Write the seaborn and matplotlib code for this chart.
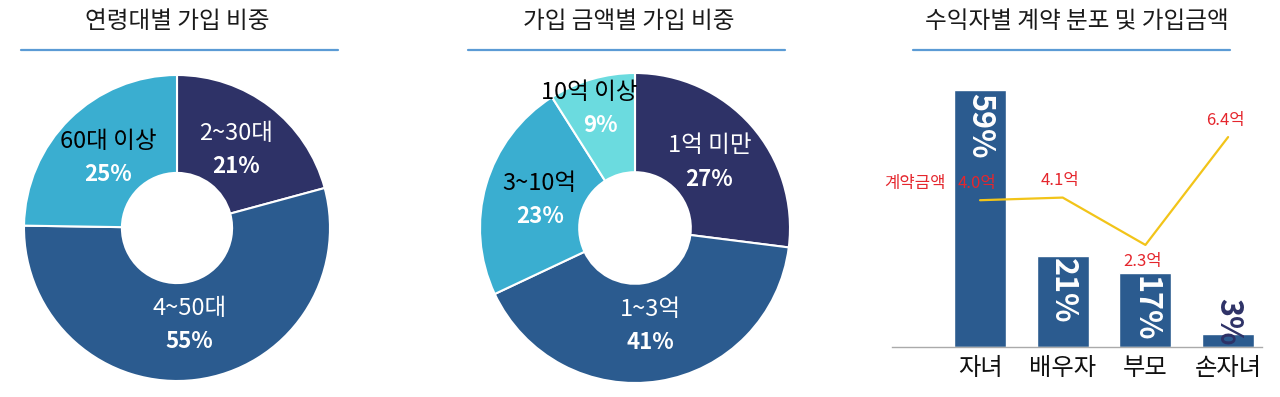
import numpy as np
import pandas as pd
import matplotlib
matplotlib.use("Agg")
import matplotlib.pyplot as plt
import seaborn as sns
from matplotlib.lines import Line2D

# chart data
age_labels = ["2~30대", "4~50대", "60대 이상"]
age_shares = [21, 55, 25]

amount_labels = ["1억 미만", "1~3억", "3~10억", "10억 이상"]
amount_shares = [27, 41, 23, 9]

benef_labels = ["자녀", "배우자", "부모", "손자녀"]
benef_shares = [59, 21, 17, 3]
benef_amounts = [4.0, 4.1, 2.3, 6.4]
amount_tags = ["4.0억", "4.1억", "2.3억", "6.4억"]

titles = ["연령대별 가입 비중", "가입 금액별 가입 비중", "수익자별 계약 분포 및 가입금액"]

NAVY = "#2e3267"
BLUE = "#2b5b8f"
SKY = "#3aaed0"
CYAN = "#6bdbdf"
RED = "#e5262d"
YELLOW = "#f2c419"
RULE = "#5b9bd5"

sns.set_theme(style="white")
plt.rcParams["font.family"] = ["Noto Sans CJK KR", "DejaVu Sans"]

W, H = 1280, 397
fig = plt.figure(figsize=(12.8, 3.97), dpi=100)


def px_axes(x0, y0, x1, y1):
    # pixel box with top-left origin -> figure axes
    return fig.add_axes([x0 / W, 1 - y1 / H, (x1 - x0) / W, (y1 - y0) / H])


def donut(ax, shares, labels, colors, name_colors):
    ax.pie(shares, colors=colors, startangle=90, counterclock=False, radius=1,
           wedgeprops=dict(width=0.64, edgecolor="white", linewidth=1.5))
    total = sum(shares)
    cum = 0
    for s, lab, nc in zip(shares, labels, name_colors):
        mid = np.deg2rad(90 - 360 * (cum + s / 2) / total)
        cum += s
        r = 0.8 if s < 10 else 0.64
        x, y = r * np.cos(mid), r * np.sin(mid)
        dx = -8 if s < 10 else 0
        ax.annotate(lab, (x, y), xytext=(dx, 12), textcoords="offset points",
                    ha="center", va="center", fontsize=17, color=nc)
        ax.annotate(f"{s}%", (x, y), xytext=(0, -12), textcoords="offset points",
                    ha="center", va="center", fontsize=16, fontweight=900,
                    color="white")
    ax.set_xlim(-1, 1)
    ax.set_ylim(-1, 1)
    ax.axis("off")


# donut 1
ax1 = px_axes(24, 75, 330, 381)
donut(ax1, age_shares, age_labels, [NAVY, BLUE, SKY], ["white", "white", "black"])

# donut 2
ax2 = px_axes(480, 73, 790, 383)
donut(ax2, amount_shares, amount_labels, [NAVY, BLUE, SKY, CYAN],
      ["white", "white", "black", "black"])

# bar + line
bar_df = pd.DataFrame({"who": benef_labels, "share": benef_shares,
                       "amount": benef_amounts})
axb = px_axes(892, 60, 1262, 347)
sns.barplot(data=bar_df, x="who", y="share", color=BLUE, width=0.63,
            saturation=1, ax=axb)
axb.set_ylim(0, 287 / 4.35)
for i, v in enumerate(benef_shares):
    if v >= 10:
        axb.annotate(f"{v}%", (i, v), xytext=(0, -2), textcoords="offset points",
                     rotation=-90, ha="center", va="top", color="white",
                     fontsize=22, fontweight=900)
    else:
        axb.annotate(f"{v}%", (i, 0), xytext=(0, 1), textcoords="offset points",
                     rotation=-90, ha="center", va="bottom", color=NAVY,
                     fontsize=22, fontweight=900)

axl = axb.twinx()
sns.lineplot(x=np.arange(len(benef_amounts)), y=benef_amounts, color=YELLOW,
             linewidth=1.6, ax=axl)
axl.set_ylim(-1.58, 9.33)
for i, (v, tag) in enumerate(zip(benef_amounts, amount_tags)):
    dy = -12 if v < 3 else 12
    axl.annotate(tag, (i, v), xytext=(-2, dy), textcoords="offset points",
                 ha="center", va="center", fontsize=12, color=RED)
axl.annotate("계약금액", (0, benef_amounts[0]), xytext=(-25, 12),
             textcoords="offset points", ha="right", va="center",
             fontsize=12, color=RED)
axl.axis("off")

axb.set_xlim(-1.065, 3.41)
axb.set_xlabel("")
axb.set_ylabel("")
axb.set_yticks([])
sns.despine(ax=axb, left=True)
axb.spines["bottom"].set_color("#aaaaaa")
axb.spines["bottom"].set_linewidth(1)
axb.tick_params(axis="x", length=0, pad=6, labelsize=17.5, labelcolor="#111111")

# titles with blue rules underneath
title_x = [177, 629, 1077]
rule_span = [(21, 338), (468, 785), (913, 1230)]
for t, cx, (a, b) in zip(titles, title_x, rule_span):
    fig.text(cx / W, 1 - 22 / H, t, ha="center", va="center", fontsize=17,
             color="#1a1a1a")
    fig.add_artist(Line2D([a / W, b / W], [1 - 50 / H, 1 - 50 / H],
                          color=RULE, linewidth=1.6))

fig.savefig("out.png", dpi=100)
plt.close(fig)
